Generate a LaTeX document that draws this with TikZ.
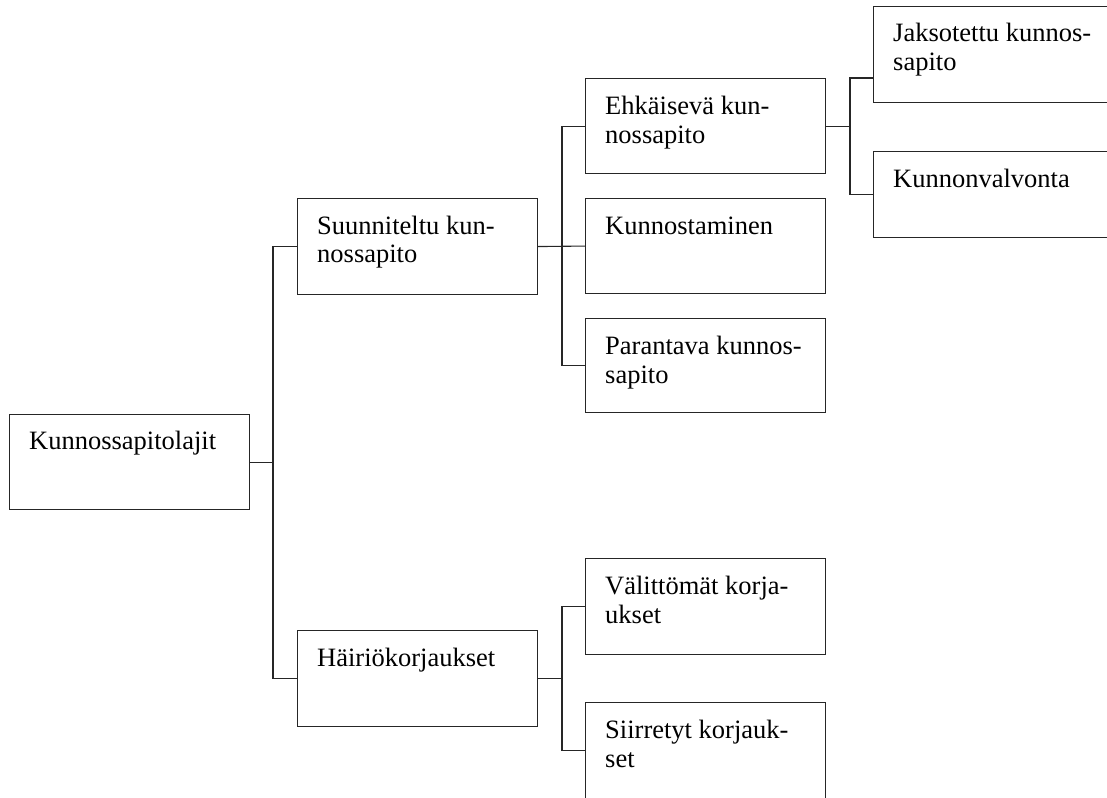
\documentclass[tikz,border=0pt]{standalone}
\usepackage{fontspec}
\setmainfont{Liberation Serif}
\begin{document}
\begin{tikzpicture}[x=1pt,y=-1pt,
  box/.style={draw=black!85,line width=1.1pt,inner sep=0pt,anchor=north west,
    minimum width=240pt,minimum height=96pt},
  lbl/.style={anchor=base west,inner sep=0pt,align=left,
    font=\fontsize{26.5pt}{28.3pt}\selectfont},
  link/.style={draw=black!85,line width=1.1pt}]
\useasboundingbox (0,0) rectangle (1107,797);
\clip (0,0) rectangle (1107,797);

% boxes: top-left corner in page pixels, y running downwards
\node[box,minimum height=95pt] (root) at (9,414) {};
\node[box] (plan) at (297,198) {};
\node[box] (fault) at (297,630) {};
\node[box,minimum height=95pt] (prev) at (585,78) {};
\node[box,minimum height=95pt] (repair) at (585,198) {};
\node[box,minimum height=94pt] (improve) at (585,318) {};
\node[box] (urgent) at (585,558) {};
\node[box] (deferred) at (585,702) {};
\node[box] (periodic) at (873,6) {};
\node[box,minimum height=86pt] (monitor) at (873,151) {};

% labels; a two-line label is placed by the baseline of its last line
\node[lbl] (root-t) at ([shift={(20,35)}]root.north west) {Kunnossapitolajit};
\node[lbl] (plan-t) at ([shift={(20,64.3)}]plan.north west) {Suunniteltu kun-\\nossapito};
\node[lbl] (fault-t) at ([shift={(20,36)}]fault.north west) {Häiriökorjaukset};
\node[lbl] (prev-t) at ([shift={(20,65)}]prev.north west) {Ehkäisevä kun-\\nossapito};
\node[lbl] (repair-t) at ([shift={(20,36)}]repair.north west) {Kunnostaminen};
\node[lbl] (improve-t) at ([shift={(20,65)}]improve.north west) {Parantava kunnos-\\sapito};
\node[lbl] (urgent-t) at ([shift={(20,65)}]urgent.north west) {Välittömät korja-\\ukset};
\node[lbl] (deferred-t) at ([shift={(20,65)}]deferred.north west) {Siirretyt korjauk-\\set};
\node[lbl] (periodic-t) at ([shift={(20,64.3)}]periodic.north west) {Jaksotettu kunnos-\\sapito};
\node[lbl] (monitor-t) at ([shift={(20,36)}]monitor.north west) {Kunnonvalvonta};

% bus lines of the tree
\coordinate (bus1) at (273,0);
\coordinate (bus2) at (562,0);
\coordinate (bus3) at (850,0);
\coordinate (periodic-in) at (873,78);

\draw[link] (root.east) -- (root.east -| bus1);
\draw[link] (plan.west) -| (bus1 |- root.east) |- (fault.west);

\draw[link] (plan.east) -- (repair.west);
\draw[link] (prev.west) -| (bus2 |- repair.west) |- (improve.west);

\draw[link] (fault.east) -- (fault.east -| bus2);
\draw[link] (urgent.west) -| (bus2 |- fault.east) |- (deferred.west);

\draw[link] (prev.east) -- (prev.east -| bus3);
\draw[link] (periodic-in) -| (bus3 |- prev.east) |- (monitor.west);
\end{tikzpicture}
\end{document}
